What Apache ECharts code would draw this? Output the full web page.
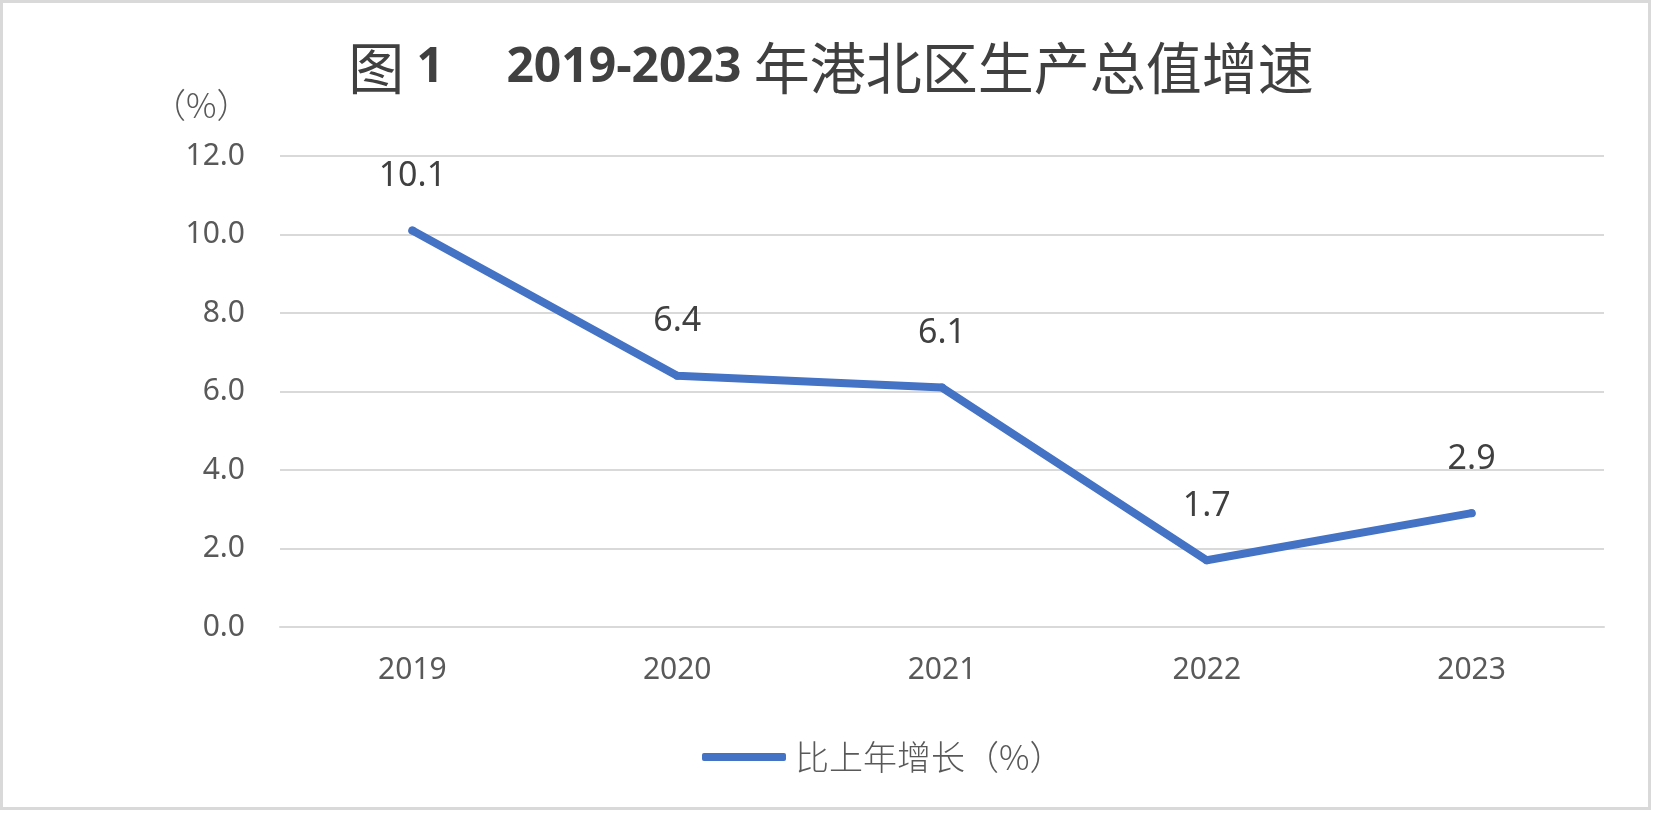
<!DOCTYPE html>
<html>
<head>
<meta charset="utf-8">
<script src="https://cdn.jsdelivr.net/npm/echarts@6.0.0/dist/echarts.min.js"></script>
<style>
  html, body { margin: 0; padding: 0; background: #fff; }
  #gdp-chart { width: 1662px; height: 816px; }
</style>
</head>
<body>
<div id="gdp-chart"></div>
<script>
const YEARS      = ["2019", "2020", "2021", "2022", "2023"];
const GROWTH     = [10.1, 6.4, 6.1, 1.7, 2.9];
const SERIES_NAME = "比上年增长（%）";
const UNIT_LABEL  = "（%）";

const LINE_CLR = "#4472C4", GRID_CLR = "#d9d9d9";
const TXT_DARK = "#404040", TXT_AXIS = "#595959";
const CJK  = "'Noto Sans CJK SC', 'Noto Sans', sans-serif";
const LATN = "'Noto Sans', 'Open Sans', sans-serif";

const chart = echarts.init(document.getElementById("gdp-chart"));

chart.setOption({
  backgroundColor: "#fff",
  animation: false,
  title: {
    left: "center", top: 34,
    text: "{c|图}{n| 1     2019-2023 }{c|年港北区生产总值增速}",
    textStyle: {
      rich: {
        c: { fontFamily: CJK, fontSize: 56, fontWeight: "normal", color: TXT_DARK, lineHeight: 58 },
        n: { fontFamily: "'Open Sans', 'Noto Sans', sans-serif", fontSize: 48, fontWeight: "bold", color: TXT_DARK, lineHeight: 58 },
      },
    },
  },
  graphic: [
    // chart frame
    { type: "rect", silent: true, shape: { x: 1.5, y: 1.5, width: 1648, height: 807 },
      style: { fill: "none", stroke: GRID_CLR, lineWidth: 3 } },
    // unit label above the value axis
    { type: "text", left: 152, top: 88,
      style: { text: UNIT_LABEL, fontFamily: CJK, fontSize: 34, fontWeight: 300, fill: TXT_AXIS } },
  ],
  legend: {
    left: 702, top: 740, padding: 0,
    itemWidth: 84, itemHeight: 8, icon: "roundRect",
    data: [SERIES_NAME],
    textStyle: { fontFamily: CJK, fontSize: 34, fontWeight: 300, color: TXT_AXIS, padding: [0, 0, 0, 4] },
  },
  grid: { left: 280, right: 58, top: 156, bottom: 189 },
  xAxis: {
    type: "category", data: YEARS,
    axisLine: { lineStyle: { color: GRID_CLR, width: 2 } },
    axisTick: { show: false },
    axisLabel: { color: TXT_AXIS, fontFamily: LATN, fontSize: 30, margin: 28 },
  },
  yAxis: {
    type: "value", min: 0, max: 12, interval: 2,
    axisLine: { show: false }, axisTick: { show: false },
    splitLine: { lineStyle: { color: GRID_CLR, width: 2 } },
    axisLabel: { color: TXT_AXIS, fontFamily: LATN, fontSize: 30, margin: 35,
                 formatter: v => v.toFixed(1) },
  },
  series: [{
    name: SERIES_NAME, type: "line", data: GROWTH,
    symbol: "circle", symbolSize: 8,
    itemStyle: { color: LINE_CLR },
    lineStyle: { color: LINE_CLR, width: 8, cap: "round", join: "round" },
    label: {
      show: true, position: "top", distance: 33,
      fontFamily: LATN, fontSize: 34, color: TXT_DARK,
      formatter: p => p.value.toFixed(1),
    },
  }],
});
</script>
</body>
</html>
